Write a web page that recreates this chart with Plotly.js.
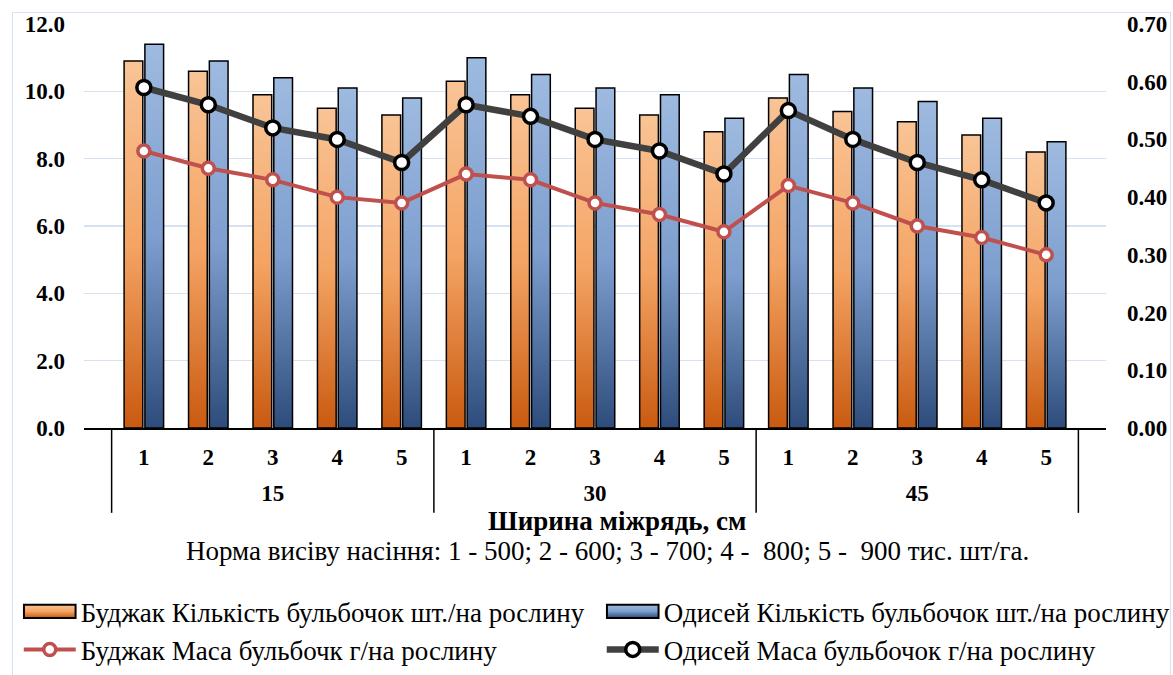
<!DOCTYPE html>
<html>
<head>
<meta charset="utf-8">
<script src="https://cdn.plot.ly/plotly-3.0.1.min.js"></script>
<style>
  body { margin: 0; background: #fff; }
  #chart { width: 1173px; height: 675px; }
  #frame { position: absolute; left: 12px; top: 12px; width: 1157px; height: 670px;
           border: 1px solid #D6E1F1; pointer-events: none; }
</style>
</head>
<body>
<div id="chart"></div>
<div id="frame"></div>
<script>
"use strict"
// row widths (cm) and seeding rates (1..5)
var rowWidths = ['15', '30', '45'];
var seedRates = ['1', '2', '3', '4', '5'];

// nodule count, pcs per plant
var budzhakCount = [10.9, 10.6, 9.9, 9.5, 9.3, 10.3, 9.9, 9.5, 9.3, 8.8, 9.8, 9.4, 9.1, 8.7, 8.2];
var odyseyCount = [11.4, 10.9, 10.4, 10.1, 9.8, 11.0, 10.5, 10.1, 9.9, 9.2, 10.5, 10.1, 9.7, 9.2, 8.5];

// nodule mass, g per plant
var budzhakMass = [0.48, 0.45, 0.43, 0.40, 0.39, 0.44, 0.43, 0.39, 0.37, 0.34, 0.42, 0.39, 0.35, 0.33, 0.30];
var odyseyMass = [0.59, 0.56, 0.52, 0.50, 0.46, 0.56, 0.54, 0.50, 0.48, 0.44, 0.55, 0.50, 0.46, 0.43, 0.39];

var names = [
  'Буджак Кількість бульбочок шт./на рослину',
  'Одисей Кількість бульбочок шт./на рослину',
  'Буджак Маса бульбочк г/на рослину',
  'Одисей Маса бульбочок г/на рослину'
];

var outer = [], inner = [];
rowWidths.forEach(function (w) {
  seedRates.forEach(function (r) { outer.push(w); inner.push(r); });
});
var xCats = [outer, inner];

var fontFamily = 'Liberation Serif, DejaVu Serif, serif';

var trace1 = {
  x: xCats, y: budzhakCount, type: 'bar', name: names[0], legend: 'legend',
  marker: { color: '#F4A460', line: { color: '#000', width: 1.5 } }
};
var trace2 = {
  x: xCats, y: odyseyCount, type: 'bar', name: names[1], legend: 'legend2',
  marker: { color: '#7C9DCD', line: { color: '#000', width: 1.5 } }
};
var trace3 = {
  x: xCats, y: budzhakMass, yaxis: 'y2', type: 'scatter', mode: 'lines+markers', name: names[2],
  legend: 'legend',
  line: { color: '#C0504D', width: 4 },
  marker: { symbol: 'circle', size: 12, color: '#fff', line: { color: '#C0504D', width: 3.5 } }
};
var trace4 = {
  x: xCats, y: odyseyMass, yaxis: 'y2', type: 'scatter', mode: 'lines+markers', name: names[3],
  legend: 'legend2',
  line: { color: '#404040', width: 6.5 },
  marker: { symbol: 'circle', size: 14, color: '#fff', line: { color: '#000', width: 3.5 } }
};

var data = [trace1, trace2, trace3, trace4];

function legendBox(x) {
  return {
    orientation: 'v',
    xref: 'container', yref: 'container',
    x: x, y: 0.13,
    xanchor: 'left', yanchor: 'top',
    itemwidth: 52,
    traceorder: 'normal',
    font: { family: fontFamily, size: 27, color: '#000' },
    bgcolor: 'rgba(0,0,0,0)'
  };
}

// group dividers under the category axis
var dividers = [];
for (var i = 0; i <= rowWidths.length; i++) {
  var pos = i * seedRates.length - 0.5;
  dividers.push({
    type: 'line', xref: 'x', yref: 'paper',
    x0: pos, x1: pos, y0: 0, y1: -0.21,
    line: { color: '#000', width: 1.5 }
  });
}

var layout = {
  width: 1173,
  height: 675,
  margin: { l: 84, r: 67, t: 24, b: 247, autoexpand: false },
  paper_bgcolor: 'rgba(0,0,0,0)',
  plot_bgcolor: 'rgba(0,0,0,0)',
  font: { family: fontFamily, color: '#000', size: 22 },
  barmode: 'group',
  bargap: 0.355,
  bargroupgap: 0.1,
  showlegend: true,
  legend: legendBox(0.016),
  legend2: legendBox(0.513),
  shapes: dividers,
  xaxis: {
    type: 'multicategory',
    showline: true,
    linecolor: '#000',
    linewidth: 1.5,
    ticks: '',
    showgrid: false,
    showdividers: false,
    ticklabelstandoff: 8,
    tickfont: { family: fontFamily, size: 23, color: '#000', weight: 'bold' }
  },
  yaxis: {
    range: [0, 12],
    dtick: 2,
    tickformat: '.1f',
    showgrid: true,
    gridcolor: '#D6E1F1',
    gridwidth: 1.5,
    zeroline: false,
    showline: false,
    ticks: '',
    ticklabelstandoff: 18,
    tickfont: { family: fontFamily, size: 23, color: '#000', weight: 'bold' }
  },
  yaxis2: {
    overlaying: 'y',
    side: 'right',
    range: [0, 0.7],
    dtick: 0.1,
    tickformat: '.2f',
    showgrid: false,
    zeroline: false,
    showline: false,
    ticks: '',
    ticklabelstandoff: 20,
    tickfont: { family: fontFamily, size: 23, color: '#000', weight: 'bold' }
  },
  annotations: [
    {
      text: '<b>Ширина міжрядь, см</b>',
      xref: 'paper', yref: 'paper', x: 0.522, y: -0.23,
      xanchor: 'center', yanchor: 'middle', showarrow: false,
      font: { family: fontFamily, size: 27, color: '#000' }
    },
    {
      text: 'Норма висіву насіння: 1 - 500; 2 - 600; 3 - 700; 4 -  800; 5 -  900 тис. шт/га.',
      xref: 'paper', yref: 'paper', x: 0.512, y: -0.304,
      xanchor: 'center', yanchor: 'middle', showarrow: false,
      font: { family: fontFamily, size: 27, color: '#000' }
    }
  ]
};

var config = { staticPlot: true };

function addGradient(defs, id, stops) {
  var ns = 'http://www.w3.org/2000/svg';
  var g = document.createElementNS(ns, 'linearGradient');
  g.setAttribute('id', id);
  g.setAttribute('x1', '0'); g.setAttribute('y1', '0');
  g.setAttribute('x2', '0'); g.setAttribute('y2', '1');
  stops.forEach(function (s) {
    var st = document.createElementNS(ns, 'stop');
    st.setAttribute('offset', s[0]);
    st.setAttribute('stop-color', s[1]);
    g.appendChild(st);
  });
  defs.appendChild(g);
}

Plotly.newPlot('chart', data, layout, config).then(function (gd) {
  var svg = gd.querySelector('.main-svg');
  var defs = svg.querySelector('defs');
  addGradient(defs, 'gradOrange', [['0%', '#F9C496'], ['50%', '#F4A464'], ['100%', '#C95A10']]);
  addGradient(defs, 'gradBlue', [['0%', '#9EBAE0'], ['50%', '#7D9ECE'], ['100%', '#2D4C7C']]);
  var ids = ['gradOrange', 'gradBlue'];
  gd.querySelectorAll('.barlayer .trace').forEach(function (t, i) {
    t.querySelectorAll('path').forEach(function (p) { p.style.fill = 'url(#' + ids[i] + ')'; });
  });
  // widen bar swatches in both legends
  ['.legend', '.legend2'].forEach(function (sel, i) {
    var lg = gd.querySelector(sel);
    if (!lg) return;
    var first = lg.querySelector('.traces .legendpoints path');
    if (first) {
      var tr = first.getAttribute('transform') || '';
      first.style.fill = 'url(#' + ids[i] + ')';
      first.setAttribute('transform', tr + ' scale(4.3,1.1)');
      first.setAttribute('vector-effect', 'non-scaling-stroke');
      first.style.strokeWidth = '2px';
    }
  });
  // push the row-width labels a bit lower, like the original
  gd.querySelectorAll('.xtick2').forEach(function (g) {
    var tr = g.getAttribute('transform') || '';
    g.setAttribute('transform', 'translate(0,17) ' + tr);
  });
});
</script>
</body>
</html>
